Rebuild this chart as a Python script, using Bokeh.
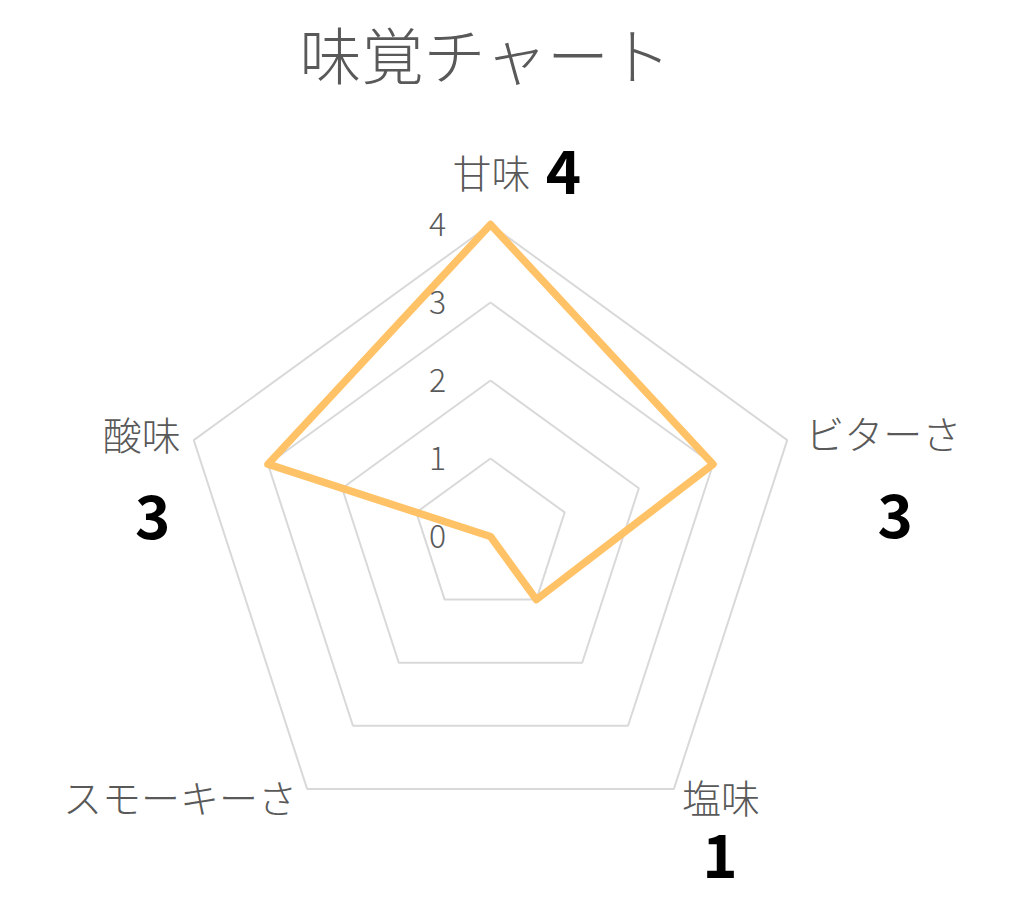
import math
from bokeh.plotting import figure
from bokeh.models import Range1d, Label
from bokeh.core.properties import value
from bokeh.embed import file_html
from bokeh.resources import INLINE

# ---- data ----
title_text = "味覚チャート"
categories = ["甘味", "ビターさ", "塩味", "スモーキーさ", "酸味"]
scores = [4, 3, 1, 0, 3]
ticks = [0, 1, 2, 3, 4]

# ---- layout / style ----
W, H = 1010, 898
UNIT = 78.0                      # px per score unit
CX, CY = 490, 536                # centre in figure px (from top-left)
FONT = "Noto Sans CJK JP Light, Noto Sans CJK JP"
BFONT = "Noto Sans CJK JP"
GRAY = "#595959"
GRID = "#D9D9D9"
ORANGE = "#FFC266"

# pixel offsets of category labels from outer vertex: (dx, dy, align)
cat_offsets = [(1, -54, "center"), (18, -8, "left"), (8, 7, "left"),
               (-10, 7, "right"), (-13, -7, "right")]
# pixel offsets of value labels from outer vertex
val_offsets = [(73, -53), (108, 76), (46, 67), (0, 0), (-41, 77)]

p = figure(width=W, height=H, output_backend="svg", toolbar_location=None,
           min_border=0, outline_line_color=None,
           x_range=Range1d(-CX / UNIT, (W - CX) / UNIT),
           y_range=Range1d(-(H - CY) / UNIT, CY / UNIT))
p.axis.visible = False
p.grid.visible = False
p.background_fill_color = "white"
p.border_fill_color = "white"

n = len(categories)
angles = [math.pi / 2 - 2 * math.pi * i / n for i in range(n)]
rmax = max(ticks)

# grid pentagons
gx, gy = [], []
for t in ticks[1:]:
    gx.append([t * math.cos(a) for a in angles] + [t * math.cos(angles[0])])
    gy.append([t * math.sin(a) for a in angles] + [t * math.sin(angles[0])])
p.multi_line(gx, gy, line_color=GRID, line_width=2)

# data polygon
sx = [s * math.cos(a) for s, a in zip(scores, angles)]
sy = [s * math.sin(a) for s, a in zip(scores, angles)]
p.patch(sx, sy, fill_alpha=0, line_color=ORANGE, line_width=7.5,
        line_join="round")

# tick labels
p.text(x=[0] * len(ticks), y=ticks, text=[str(t) for t in ticks],
       x_offset=-53, text_align="center", text_baseline="middle",
       text_font=value(FONT), text_font_size="32px", text_color=GRAY)

# category labels
vx = [rmax * math.cos(a) for a in angles]
vy = [rmax * math.sin(a) for a in angles]
for i, c in enumerate(categories):
    dx, dy, al = cat_offsets[i]
    p.text(x=[vx[i]], y=[vy[i]], text=[c], x_offset=dx, y_offset=dy,
           text_align=al, text_baseline="middle",
           text_font=value(FONT), text_font_size="39px", text_color=GRAY)

# value labels
for i, s in enumerate(scores):
    if s == 0:
        continue
    dx, dy = val_offsets[i]
    p.text(x=[vx[i]], y=[vy[i]], text=[str(s)], x_offset=dx, y_offset=dy,
           text_align="center", text_baseline="middle",
           text_font=value(BFONT), text_font_style="bold",
           text_font_size="60px", text_color="black")

# title
p.add_layout(Label(x=485, y=H - 52, x_units="screen", y_units="screen",
                   text=title_text, text_align="center",
                   text_baseline="middle", text_font=FONT,
                   text_font_size="62px", text_color=GRAY))

open("out.html", "w").write(file_html(p, INLINE))
